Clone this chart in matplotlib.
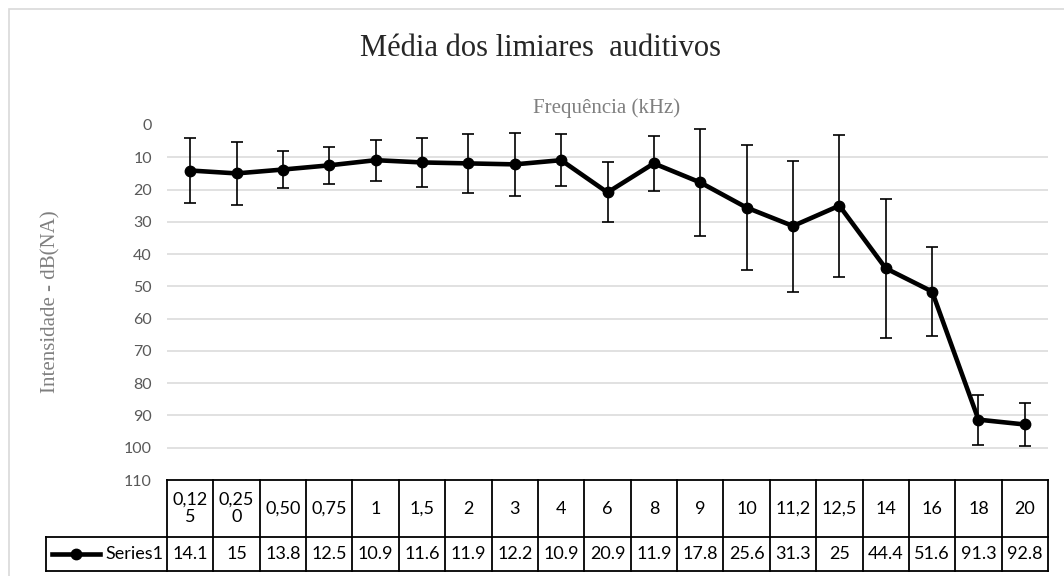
import numpy as np
import matplotlib
matplotlib.use("Agg")
import matplotlib.pyplot as plt
from matplotlib.transforms import blended_transform_factory
from matplotlib.patches import Rectangle

freq_labels = ["0,125", "0,250", "0,50", "0,75", "1", "1,5", "2", "3", "4", "6",
               "8", "9", "10", "11,2", "12,5", "14", "16", "18", "20"]
mean_db = [14.1, 15, 13.8, 12.5, 10.9, 11.6, 11.9, 12.2, 10.9, 20.9,
           11.9, 17.8, 25.6, 31.3, 25, 44.4, 51.6, 91.3, 92.8]
err_db = [10.1, 9.7, 5.6, 5.7, 6.3, 7.5, 9.2, 9.8, 8.0, 9.3,
          8.6, 16.6, 19.3, 20.3, 22.0, 21.5, 13.7, 7.7, 6.7]
series_name = "Series1"
yticks = list(range(0, 111, 10))

W, H = 1064, 576
fig = plt.figure(figsize=(W / 100, H / 100), dpi=100)

# outer chart border (cut off at right / bottom like the source)
fig.patches.append(Rectangle((9 / W, -0.1), 1.2, 1 - 9 / H + 0.1, transform=fig.transFigure,
                             fill=False, edgecolor="#d9d9d9", lw=1.2))

left, right, top, bottom = 167, 1048, 125, 480
ax = fig.add_axes([left / W, 1 - bottom / H, (right - left) / W, (bottom - top) / H])

x = np.arange(len(mean_db))
ax.errorbar(x, mean_db, yerr=err_db, color="black", lw=3.3, marker="o", ms=7.5,
            ecolor="black", elinewidth=1.2, capsize=4.3, capthick=1.2, zorder=3)

ax.set_xlim(-0.5, len(mean_db) - 0.5)
ax.set_ylim(110, 0)
ax.set_yticks(yticks)
ax.set_xticks([])
ax.tick_params(axis="y", length=0, pad=10.8, labelsize=11.5, labelcolor="#595959")
for lab in ax.get_yticklabels():
    lab.set_family("Lato")
ax.grid(axis="y", color="#d9d9d9", lw=1.1)
gl = ax.yaxis.get_gridlines()
gl[0].set_visible(False)
gl[-1].set_visible(False)
for s in ax.spines.values():
    s.set_visible(False)

fig.text(540 / W, 1 - 49 / H, "Média dos limiares  auditivos", ha="center", va="center",
         family="Liberation Serif", fontsize=22, color="#262626")
fig.text(607 / W, 1 - 108 / H, "Frequência (kHz)", ha="center", va="center",
         family="Liberation Serif", fontsize=15, color="#7f7f7f")
fig.text(51 / W, 1 - 302 / H, "Intensidade - dB(NA)", ha="center", va="center", rotation=90,
         family="Liberation Serif", fontsize=15, color="#7f7f7f")

# data table under the plot
tr = blended_transform_factory(ax.transData, ax.transAxes)
ah = bottom - top
y_mid = -(537 - bottom) / ah
y_bot = -(571 - bottom) / ah
colw = (right - left) / len(mean_db)
x_lab = (46 - left) / colw - 0.5
n = len(mean_db)
kw = dict(color="black", lw=1.3, transform=tr, clip_on=False)
ax.plot([-0.5, n - 0.5], [0, 0], **kw)
ax.plot([x_lab, n - 0.5], [y_mid, y_mid], **kw)
ax.plot([x_lab, n - 0.5], [y_bot, y_bot], **kw)
ax.plot([x_lab, x_lab], [y_mid, y_bot], **kw)
for i in range(n + 1):
    ax.plot([i - 0.5, i - 0.5], [0, y_bot], **kw)

for i, (lab, v) in enumerate(zip(freq_labels, mean_db)):
    txt = lab if len(lab) <= 4 else lab[:4] + "\n" + lab[4:]
    ax.text(i, y_mid / 2, txt, transform=tr, ha="center", va="center",
            family="Lato", fontsize=13, linespacing=1.15)
    ax.text(i, (y_mid + y_bot) / 2, f"{v:g}", transform=tr, ha="center", va="center",
            family="Lato", fontsize=13)

ky = (y_mid + y_bot) / 2
kx0 = (52 - left) / colw - 0.5
kx1 = (100 - left) / colw - 0.5
ax.plot([kx0, kx1], [ky, ky], color="black", lw=3.3, transform=tr, clip_on=False)
ax.plot([(kx0 + kx1) / 2], [ky], "o", color="black", ms=7.5, transform=tr, clip_on=False)
ax.text((163 - left) / colw - 0.5, ky, series_name, transform=tr, ha="right", va="center",
        family="Lato", fontsize=13)

fig.savefig("out.png", dpi=100)
